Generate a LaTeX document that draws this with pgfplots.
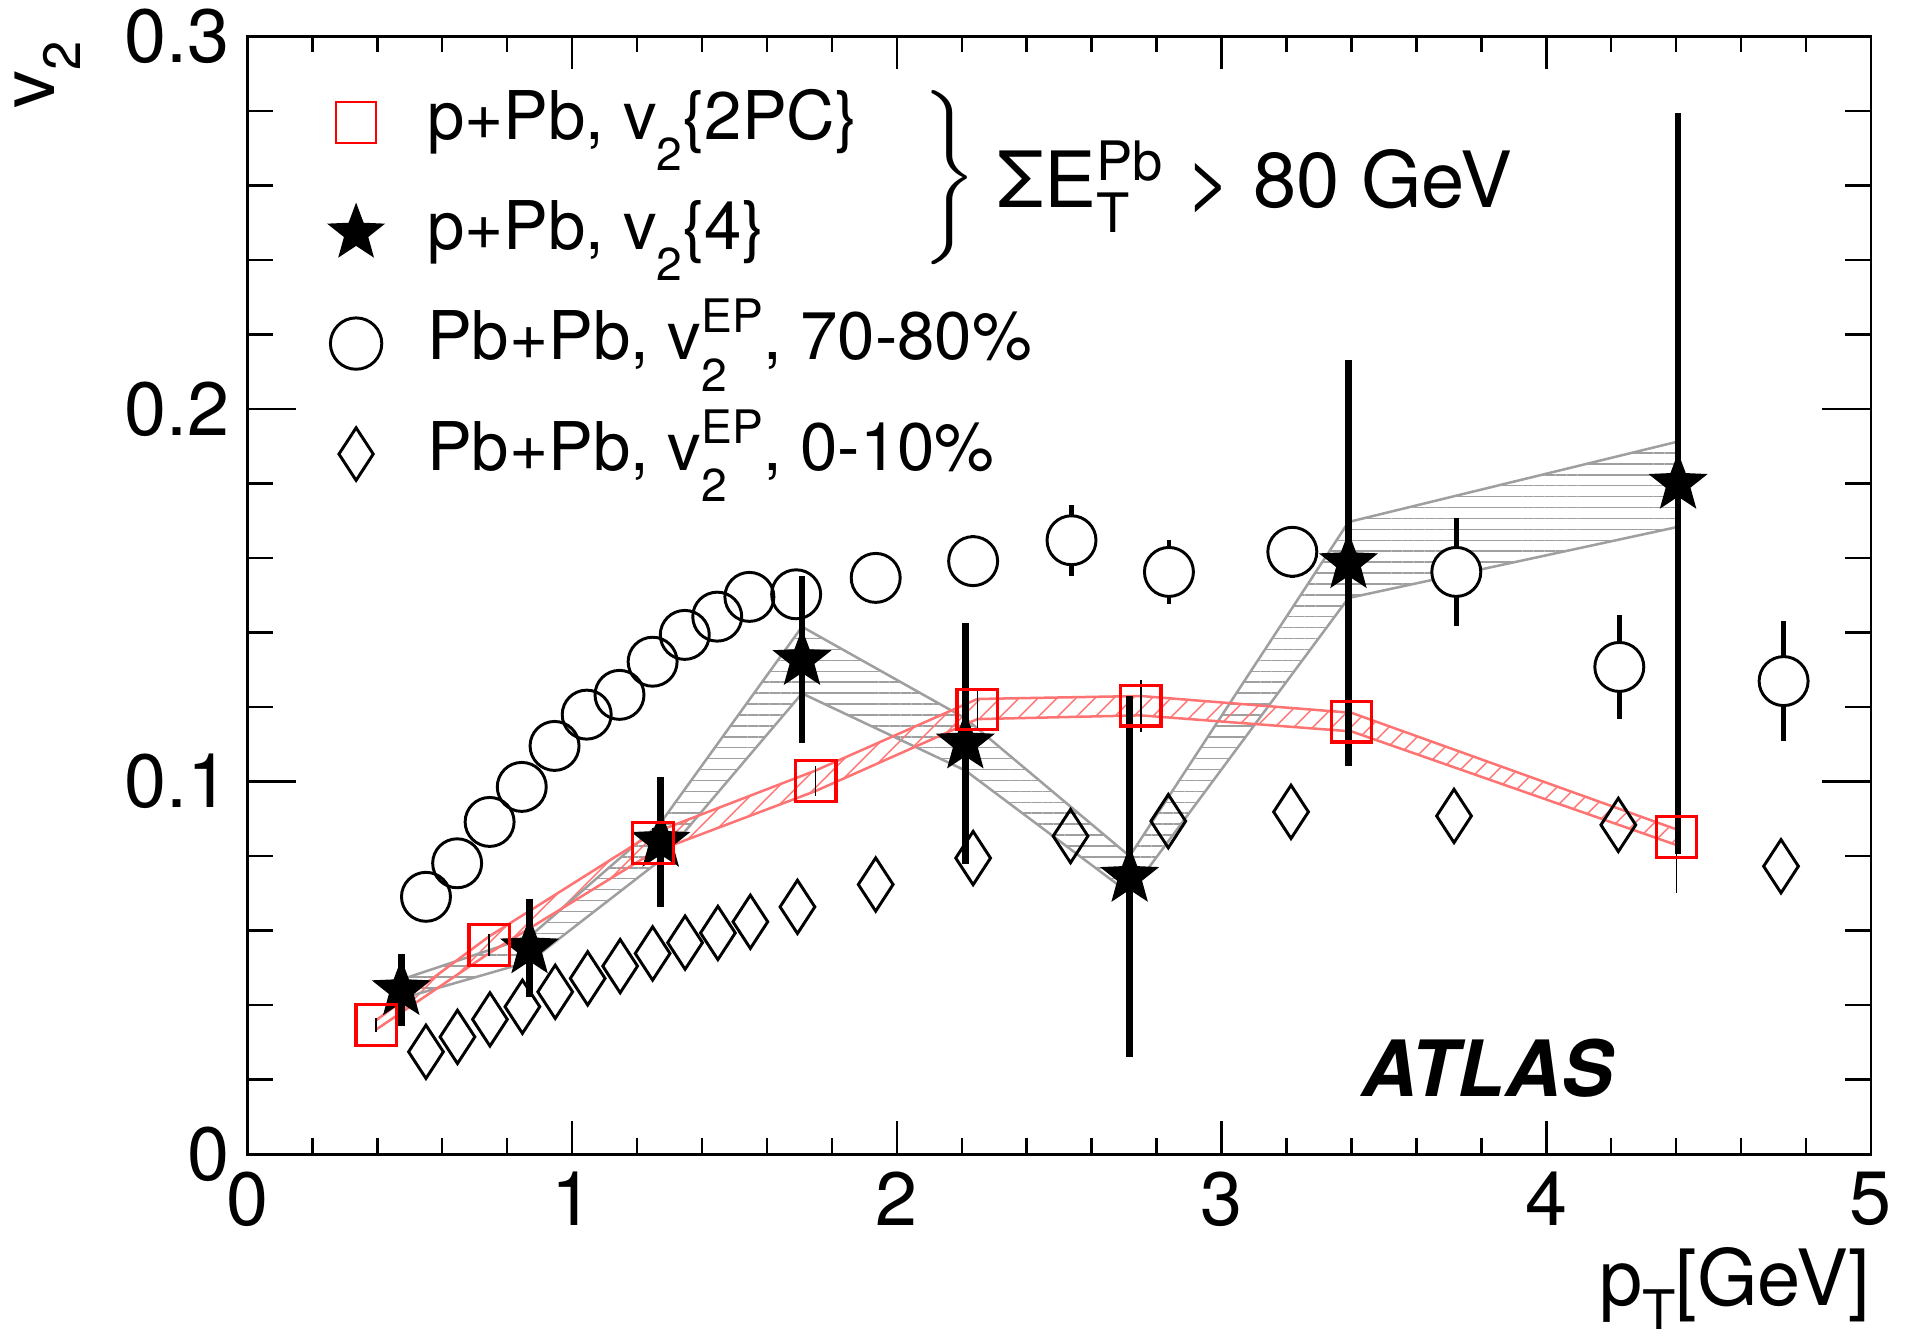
\documentclass[border=0pt]{standalone}
\usepackage{fontspec}
\setmainfont{TeX Gyre Heros}
\usepackage{amsmath}
\usepackage{pgfplots}
\pgfplotsset{compat=1.18}
\usepgfplotslibrary{fillbetween}
\usetikzlibrary{patterns.meta}

% filled five-point star
\pgfdeclareplotmark{fstar}{%
  \pgfpathmoveto{\pgfqpoint{0pt}{\pgfplotmarksize}}%
  \pgfpathlineto{\pgfqpoint{-0.2469\pgfplotmarksize}{0.3398\pgfplotmarksize}}%
  \pgfpathlineto{\pgfqpoint{-0.9511\pgfplotmarksize}{0.3090\pgfplotmarksize}}%
  \pgfpathlineto{\pgfqpoint{-0.3995\pgfplotmarksize}{-0.1298\pgfplotmarksize}}%
  \pgfpathlineto{\pgfqpoint{-0.5878\pgfplotmarksize}{-0.8090\pgfplotmarksize}}%
  \pgfpathlineto{\pgfqpoint{0pt}{-0.42\pgfplotmarksize}}%
  \pgfpathlineto{\pgfqpoint{0.5878\pgfplotmarksize}{-0.8090\pgfplotmarksize}}%
  \pgfpathlineto{\pgfqpoint{0.3995\pgfplotmarksize}{-0.1298\pgfplotmarksize}}%
  \pgfpathlineto{\pgfqpoint{0.9511\pgfplotmarksize}{0.3090\pgfplotmarksize}}%
  \pgfpathlineto{\pgfqpoint{0.2469\pgfplotmarksize}{0.3398\pgfplotmarksize}}%
  \pgfpathclose
  \pgfusepathqfillstroke}

% ROOT-like lowered subscript / raised superscript
\newcommand{\lsub}[1]{\raisebox{-7.5pt}{\fontsize{11}{11}\selectfont #1}}
\newcommand{\vtwo}{v\lsub{2}}
\newcommand{\vtwoep}{v\rlap{\lsub{2}}\raisebox{6.5pt}{\fontsize{11}{11}\selectfont EP}}

\begin{document}
\begin{tikzpicture}
\begin{axis}[
  at={(0,0)}, anchor=origin,
  width=13.592cm, height=9.357cm, scale only axis,
  xmin=0, xmax=5, ymin=0, ymax=0.3,
  xtick={0,1,2,3,4,5}, ytick={0,0.1,0.2,0.3},
  minor x tick num=4, minor y tick num=4,
  tick align=inside,
  axis line style={line width=0.65pt},
  tick style={line width=0.6pt, black},
  xtick style={/pgfplots/major tick length=0.275cm, /pgfplots/minor tick length=0.133cm},
  ytick style={/pgfplots/major tick length=0.408cm, /pgfplots/minor tick length=0.214cm},
  /pgf/number format/assume math mode=true,
  ticklabel style={font=\fontsize{18}{21}\selectfont, inner sep=4pt},
  xlabel={p\raisebox{-5.5pt}{\fontsize{13}{13}\selectfont T}[GeV]},
  xlabel style={at={(axis description cs:1,0)}, anchor=base east, yshift=-1.27cm,
    inner sep=0pt, font=\fontsize{18.5}{22}\selectfont},
  ylabel={v\raisebox{-6pt}{\fontsize{12.5}{12.5}\selectfont 2}},
  ylabel style={at={(axis description cs:-0.1186,0.9967)}, anchor=base east,
    inner sep=0pt, font=\fontsize{18}{21}\selectfont},
  legend style={at={(axis description cs:0.05,0.9732)}, anchor=north west,
    draw=none, fill=none, inner sep=0pt, row sep=0pt,
    font=\fontsize{16}{19}\selectfont,
    nodes={inner sep=0pt, text height=0.6cm, text depth=0.325cm},
    /tikz/every odd column/.append style={column sep=0.37cm}},
  legend cell align=left,
]

\addlegendimage{only marks, mark=square, red, mark size=0.17cm, mark options={line width=0.5pt}}
\addlegendentry{p+Pb, \vtwo\{2PC\}}
\addlegendimage{only marks, mark=fstar, black, mark size=0.235cm, mark options={fill=black}}
\addlegendentry{p+Pb, \vtwo\{4\}}
\addlegendimage{only marks, mark=o, black, mark size=0.215cm, mark options={line width=0.7pt}}
\addlegendentry{Pb+Pb, \vtwoep, 70-80\%}
\addlegendimage{only marks, mark=diamond, black, mark size=0.22cm, mark options={xscale=0.87, line width=0.7pt}}
\addlegendentry{Pb+Pb, \vtwoep, 0-10\%}

% Pb+Pb 70-80%, low pT
\addplot[forget plot, only marks, black, mark=o, mark size=0.205cm, mark options={line width=0.7pt}]
coordinates {(0.550,0.0691) (0.646,0.0781) (0.746,0.0892) (0.845,0.0986) (0.946,0.1096)
  (1.045,0.1180) (1.146,0.1233) (1.248,0.1322) (1.347,0.1394) (1.447,0.1443)
  (1.546,0.1496) (1.690,0.1503) (1.935,0.1547)};

% Pb+Pb 70-80%, with error bars
\addplot[forget plot, only marks, black, mark=*, mark size=0.205cm,
  mark options={fill=white, draw=black, line width=0.7pt},
  error bars/.cd, y dir=both, y explicit, error mark=none,
  error bar style={line width=1.05pt}]
coordinates {(2.235,0.1592) +- (0,0.007) (2.538,0.1648) +- (0,0.0095)
  (2.838,0.1563) +- (0,0.0085) (3.218,0.1617) +- (0,0.007)
  (3.723,0.1563) +- (0,0.0144) (4.225,0.1308) +- (0,0.014)
  (4.731,0.1270) +- (0,0.016)};

% Pb+Pb 0-10%
\addplot[forget plot, only marks, black, mark=diamond, mark size=0.223cm,
  mark options={xscale=0.87, line width=0.7pt}]
coordinates {(0.550,0.0275) (0.647,0.0315) (0.747,0.0362) (0.847,0.0396) (0.948,0.0436)
  (1.048,0.0472) (1.148,0.0505) (1.248,0.0539) (1.348,0.0568) (1.449,0.0594)
  (1.549,0.0624) (1.694,0.0664) (1.935,0.0724) (2.235,0.0795) (2.535,0.0854)
  (2.836,0.0894) (3.214,0.0919) (3.716,0.0908) (4.222,0.0884) (4.723,0.0773)};

% v2{4} systematic band
\addplot[forget plot, name path=gU, draw=gray!75, line width=0.6pt]
coordinates {(0.474,0.0469) (0.869,0.0584) (1.273,0.0890) (1.708,0.1416)
  (2.211,0.1170) (2.717,0.0800) (3.391,0.1697) (4.406,0.1913)};
\addplot[forget plot, name path=gL, draw=gray!75, line width=0.6pt]
coordinates {(0.474,0.0418) (0.869,0.0517) (1.273,0.0790) (1.708,0.1237)
  (2.211,0.1030) (2.717,0.0700) (3.391,0.1493) (4.406,0.1684)};
\addplot[forget plot, draw=none, pattern={Lines[angle=0, distance=2.6pt, line width=0.35pt]},
  pattern color=gray!75] fill between[of=gU and gL];

% v2{2PC} systematic band
\addplot[forget plot, name path=rU, draw=red!55, line width=0.6pt]
coordinates {(0.397,0.0360) (0.745,0.0585) (1.249,0.0862) (1.750,0.1030)
  (2.248,0.1222) (2.751,0.1230) (3.400,0.1185) (4.401,0.0872)};
\addplot[forget plot, name path=rL, draw=red!55, line width=0.6pt]
coordinates {(0.397,0.0335) (0.745,0.0540) (1.249,0.0810) (1.750,0.0975)
  (2.248,0.1168) (2.751,0.1178) (3.400,0.1135) (4.401,0.0830)};
\addplot[forget plot, draw=none, pattern={Lines[angle=45, distance=3.2pt, line width=0.35pt]},
  pattern color=red!55] fill between[of=rU and rL];

% p+Pb v2{4}
\addplot[forget plot, only marks, black, mark=fstar, mark size=0.24cm, mark options={fill=black},
  error bars/.cd, y dir=both, y explicit, error mark=none,
  error bar style={line width=1.6pt}]
coordinates {(0.474,0.0441) +- (0,0.0096) (0.869,0.0553) +- (0,0.0132)
  (1.273,0.0839) +- (0,0.0174) (1.708,0.1327) +- (0,0.0224)
  (2.211,0.1103) +- (0,0.0323) (2.717,0.0745) +- (0,0.0485)
  (3.391,0.1587) +- (0,0.0545) (4.406,0.1800) +- (0,0.0995)};

% p+Pb v2{2PC}
\addplot[forget plot, only marks, red, mark=square, mark size=0.17cm, mark options={line width=0.75pt},
  error bars/.cd, y dir=both, y explicit, error mark=none,
  error bar style={line width=0.4pt, black}]
coordinates {(0.397,0.0347) +- (0,0.002) (0.745,0.0562) +- (0,0.003)
  (1.249,0.0836) +- (0,0.004) (1.750,0.1002) +- (0,0.004)
  (2.248,0.1194) +- (0,0.005) (2.751,0.1204) +- (0,0.007)
  (3.400,0.1161) +- (0,0.009) (4.401,0.0852) +- (0,0.015)};

\node[anchor=center, inner sep=0pt, font=\fontsize{19}{22}\selectfont] at (axis cs:2.155,0.262)
  {$\left.\vcenter{\hbox{\rule{0pt}{1.22cm}}}\right\}$};
\node[anchor=base west, inner sep=0pt, font=\fontsize{18.5}{22}\selectfont] at (axis cs:2.309,0.2542)
  {ΣE$_{\text{T}}^{\text{Pb}}$ > 80 GeV};
\node[anchor=base west, inner sep=0pt, font=\fontsize{18.5}{22}\selectfont\bfseries\itshape]
  at (axis cs:3.428,0.0154) {ATLAS};
\end{axis}
\pgfresetboundingbox
\path[use as bounding box] (-2.071cm,-1.531cm) rectangle (13.927cm,9.663cm);
\end{tikzpicture}
\end{document}
